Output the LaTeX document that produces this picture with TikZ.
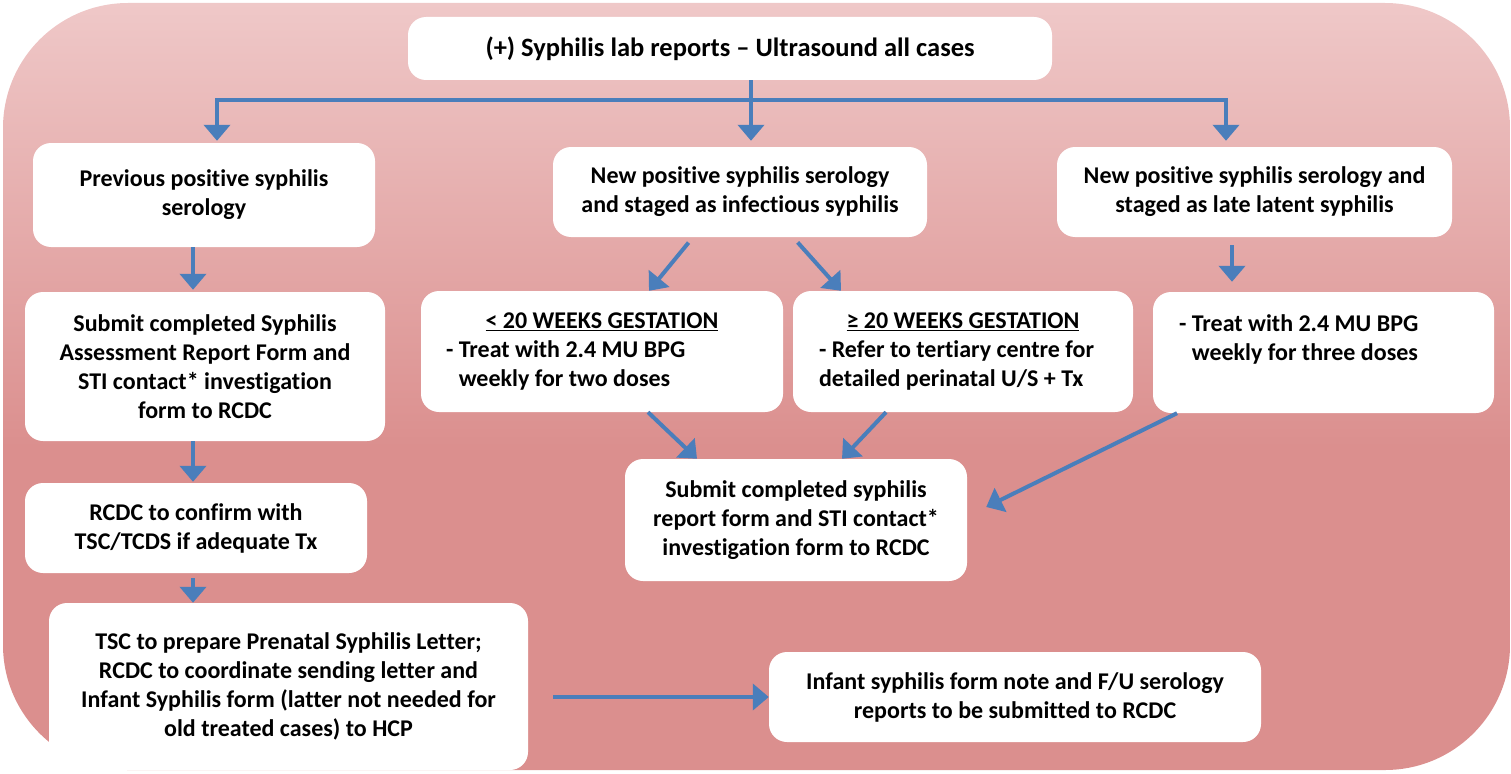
\documentclass[tikz,border=0pt]{standalone}
\usepackage{fontspec}
\setmainfont{Carlito}[Ligatures={TeX,CommonOff}]
\usetikzlibrary{arrows.meta}
\definecolor{bgtop}{RGB}{239,200,200}
\definecolor{bgbot}{RGB}{219,143,142}
\definecolor{arrowblue}{RGB}{74,126,187}
\pgfdeclareverticalshading{bgfade}{100bp}{color(0bp)=(bgbot); color(25bp)=(bgbot); color(46bp)=(bgbot); color(75bp)=(bgtop); color(100bp)=(bgtop)}

\begin{document}
\begin{tikzpicture}[x=1pt,y=-1pt,
	box/.style={fill=white, rounded corners=18pt, align=center, inner sep=0pt, font={\bfseries\fontsize{24}{29}\selectfont}},
	flow/.style={draw=arrowblue, line width=4pt, -{Triangle[width=26pt,length=16pt]}}]
					\useasboundingbox (0,0) rectangle (1511,773);
					\shade[shading=bgfade, rounded corners=125pt] (3,3) rectangle (1510,770);

					\node (top) [box, minimum width=644pt, minimum height=63pt, font={\bfseries\fontsize{26.5}{30}\selectfont}] at (730,48.5) {(+) Syphilis lab reports – Ultrasound all cases};
					\node (prev) [box, minimum width=342pt, minimum height=104pt] at (204,195) {Previous positive syphilis\\serology};
					\node (infe) [box, minimum width=374pt, minimum height=90pt] at (740,192) {New positive syphilis serology\\and staged as infectious syphilis};
					\node (late) [box, minimum width=395pt, minimum height=90pt] at (1254.5,192) {New positive syphilis serology and\\staged as late latent syphilis};
					\node (sub) [box, minimum width=360pt, minimum height=149pt] at (205,366.5) {Submit completed Syphilis\\Assessment Report Form and\\STI contact* investigation\\form to RCDC};
					\node (lt20) [box, minimum width=362pt, minimum height=121pt, align=left] at (602,351.5) {\makebox[312pt]{\underline{< 20 WEEKS GESTATION}}\\- Treat with 2.4 MU BPG\\\phantom{- }weekly for two doses};
					\node (ge20) [box, minimum width=340pt, minimum height=121pt, align=left] at (963,351.5) {\makebox[288pt]{\underline{≥ 20 WEEKS GESTATION}}\\- Refer to tertiary centre for\\detailed perinatal U/S + Tx};
					\node (three) [box, minimum width=341pt, minimum height=121pt, align=left] at (1323.5,352.5) {- Treat with 2.4 MU BPG\\\phantom{- }weekly for three doses\\\makebox[289pt]{}};
					\node (rcdc) [box, minimum width=342pt, minimum height=90pt] at (196,528) {RCDC to confirm with\\TSC/TCDS if adequate Tx};
					\node (rep) [box, minimum width=342pt, minimum height=122pt] at (796,520) {Submit completed syphilis\\report form and STI contact*\\investigation form to RCDC};
					\node (tsc) [box, minimum width=479pt, minimum height=167pt] at (288.5,686.5) {TSC to prepare Prenatal Syphilis Letter;\\RCDC to coordinate sending letter and\\Infant Syphilis form (latter not needed for\\old treated cases) to HCP};
					\node (inf) [box, minimum width=492pt, minimum height=90pt] at (1015,697) {Infant syphilis form note and F/U serology\\reports to be submitted to RCDC};

					\coordinate (hub) at (751,100);

					\path ([xshift=21pt]top.south) edge [flow, shorten >=6pt] ([xshift=11pt]infe.north);
					\draw [flow, shorten >=2pt] (hub) -| ([xshift=13pt]prev.north);
					\draw [flow, shorten >=6pt] (hub) -| ([xshift=-28.5pt]late.north);
					\path ([xshift=-11pt]prev.south) edge [flow, shorten >=2pt] ([xshift=-12pt]sub.north);
					\path ([xshift=-12pt]sub.south) edge [flow, shorten >=1pt] ([xshift=-3pt]rcdc.north);
					\path ([xshift=-3pt]rcdc.south) edge [flow, shorten <=5pt] ([xshift=-95.5pt]tsc.north);
					\path (tsc.east |- inf.west) edge [flow, shorten <=25pt] (inf.west);
					\path ([xshift=-47pt]infe.south) edge [flow, shorten <=7pt] ([xshift=47pt]lt20.north);
					\path ([xshift=53pt]infe.south) edge [flow, shorten <=7pt] ([xshift=-122pt]ge20.north);
					\path ([xshift=-22.5pt]late.south) edge [flow, shorten <=8pt, shorten >=10pt] ([xshift=-91.5pt]three.north);
					\path ([xshift=46pt]lt20.south) edge [flow] ([xshift=-99pt]rep.north);
					\path ([xshift=-77pt]ge20.south) edge [flow] ([xshift=46pt]rep.north);
					\path ([xshift=-146.5pt]three.south) edge [flow] ([xshift=19pt,yshift=13pt]rep.east);
\end{tikzpicture}
\end{document}
